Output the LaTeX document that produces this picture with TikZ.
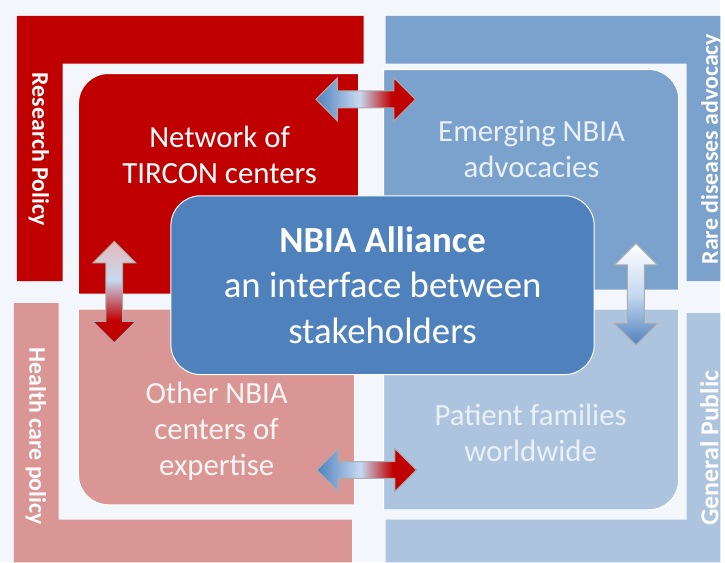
\documentclass[tikz,border=0pt]{standalone}
\usepackage{fontspec}
\setmainfont{Carlito}
\usetikzlibrary{positioning,shapes.arrows}
\definecolor{resred}{HTML}{C00000}
\definecolor{advblue}{HTML}{7BA2CC}
\definecolor{carepink}{HTML}{D99694}
\definecolor{pubblue}{HTML}{ADC4DF}
\definecolor{allblue}{HTML}{4F81BD}
\definecolor{paleblue}{HTML}{C6D9F1}
\definecolor{palepink}{HTML}{E6B9B8}
\definecolor{bgpale}{HTML}{F3F6FA}
\pgfdeclarehorizontalshading{bluered}{100bp}{color(0bp)=(allblue); color(25bp)=(allblue); color(47bp)=(paleblue); color(63bp)=(resred); color(100bp)=(resred)}
\pgfdeclareverticalshading{pinkred}{100bp}{color(0bp)=(resred); color(25bp)=(resred); color(36bp)=(resred); color(56bp)=(paleblue); color(75bp)=(palepink); color(100bp)=(palepink)}
\pgfdeclareverticalshading{whiteblue}{100bp}{color(0bp)=(allblue); color(25bp)=(allblue); color(50bp)=(paleblue); color(75bp)=(white); color(100bp)=(white)}
\tikzstyle{boxline} = [draw=white,line width=1pt]
\tikzstyle{boxtext} = [align=center,font=\fontsize{31}{36}\selectfont]
\tikzstyle{sidetext} = [text=white,font=\fontsize{24}{28}\selectfont\bfseries]
\tikzstyle{link} = [double arrow,draw=gray!65,line width=1pt,inner sep=8pt,double arrow head extend=13pt]

\begin{document}
\begin{tikzpicture}[x=1pt,y=-1pt]
  \fill[bgpale] (0,0) rectangle (725,566);
  % the four stakeholder frames
  \fill[resred] (17,16) -- (366,16) -- (366,64) -- (63,64) -- (63,283) -- (17,283) -- cycle;
  \fill[advblue] (388,16) -- (725,16) -- (725,283) -- (691,283) -- (691,64) -- (388,64) -- cycle;
  \fill[carepink] (14,305) -- (59,305) -- (59,523) -- (354,523) -- (354,566) -- (14,566) -- cycle;
  \fill[pubblue] (691,315) -- (725,315) -- (725,566) -- (388,566) -- (388,523) -- (691,523) -- cycle;
  \node[sidetext,rotate=-90] (research) at (39,150) {Research Policy};
  \node[sidetext,rotate=90] (rare) at (716,150) {Rare diseases advocacy};
  \node[sidetext,rotate=-90] (health) at (36,439) {Health care policy};
  \node[sidetext,rotate=90,font=\fontsize{26}{30}\selectfont\bfseries] (public) at (714,451) {General Public};
  % inner boxes
  \filldraw[boxline,fill=resred] (361,296) -- (79,296) -- (79,104) arc[start angle=180,end angle=270,radius=30] -- (361,74) -- cycle;
  \filldraw[boxline,fill=advblue] (386,292) -- (386,70) -- (653,70) arc[start angle=270,end angle=360,radius=30] -- (683,292) -- cycle;
  \filldraw[boxline,fill=carepink] (357,311) -- (79,311) -- (79,478) arc[start angle=180,end angle=90,radius=30] -- (357,508) -- cycle;
  \filldraw[boxline,fill=pubblue] (386,311) -- (683,311) -- (683,483) arc[start angle=0,end angle=90,radius=30] -- (386,513) -- cycle;
  \node[boxtext,text=white] (tircon) at (221,156) {Network of\\TIRCON centers};
  \node[boxtext,text=white!88!allblue] (emerging) at (535,150) {Emerging NBIA\\advocacies};
  \node[boxtext,text=white!90!carepink] (other) at (218,434) {Other NBIA\\centers of\\expertise};
  \node[boxtext,text=white!88!allblue] (patient) at (534,436) {Patient families\\worldwide};
  % the alliance
  \node[boxline,fill=allblue,rounded corners=30pt,minimum width=426pt,minimum height=180pt,
        align=center,text=white,font=\fontsize{37}{46}\selectfont] (alliance) at (385,287)
        {\textbf{NBIA Alliance}\\an interface between\\stakeholders};
  % exchanges
  \node[link,minimum height=100pt,shading=bluered] (toplink) at (368,100) {};
  \node[link,minimum height=100pt,shading=bluered] (botlink) at (369,473) {};
  \node[link,minimum height=102pt,shape border rotate=90,shading=pinkred] (leftlink) at (115,294) {};
  \node[link,minimum height=102pt,shape border rotate=90,shading=whiteblue] (rightlink) at (640,296) {};
\end{tikzpicture}
\end{document}
